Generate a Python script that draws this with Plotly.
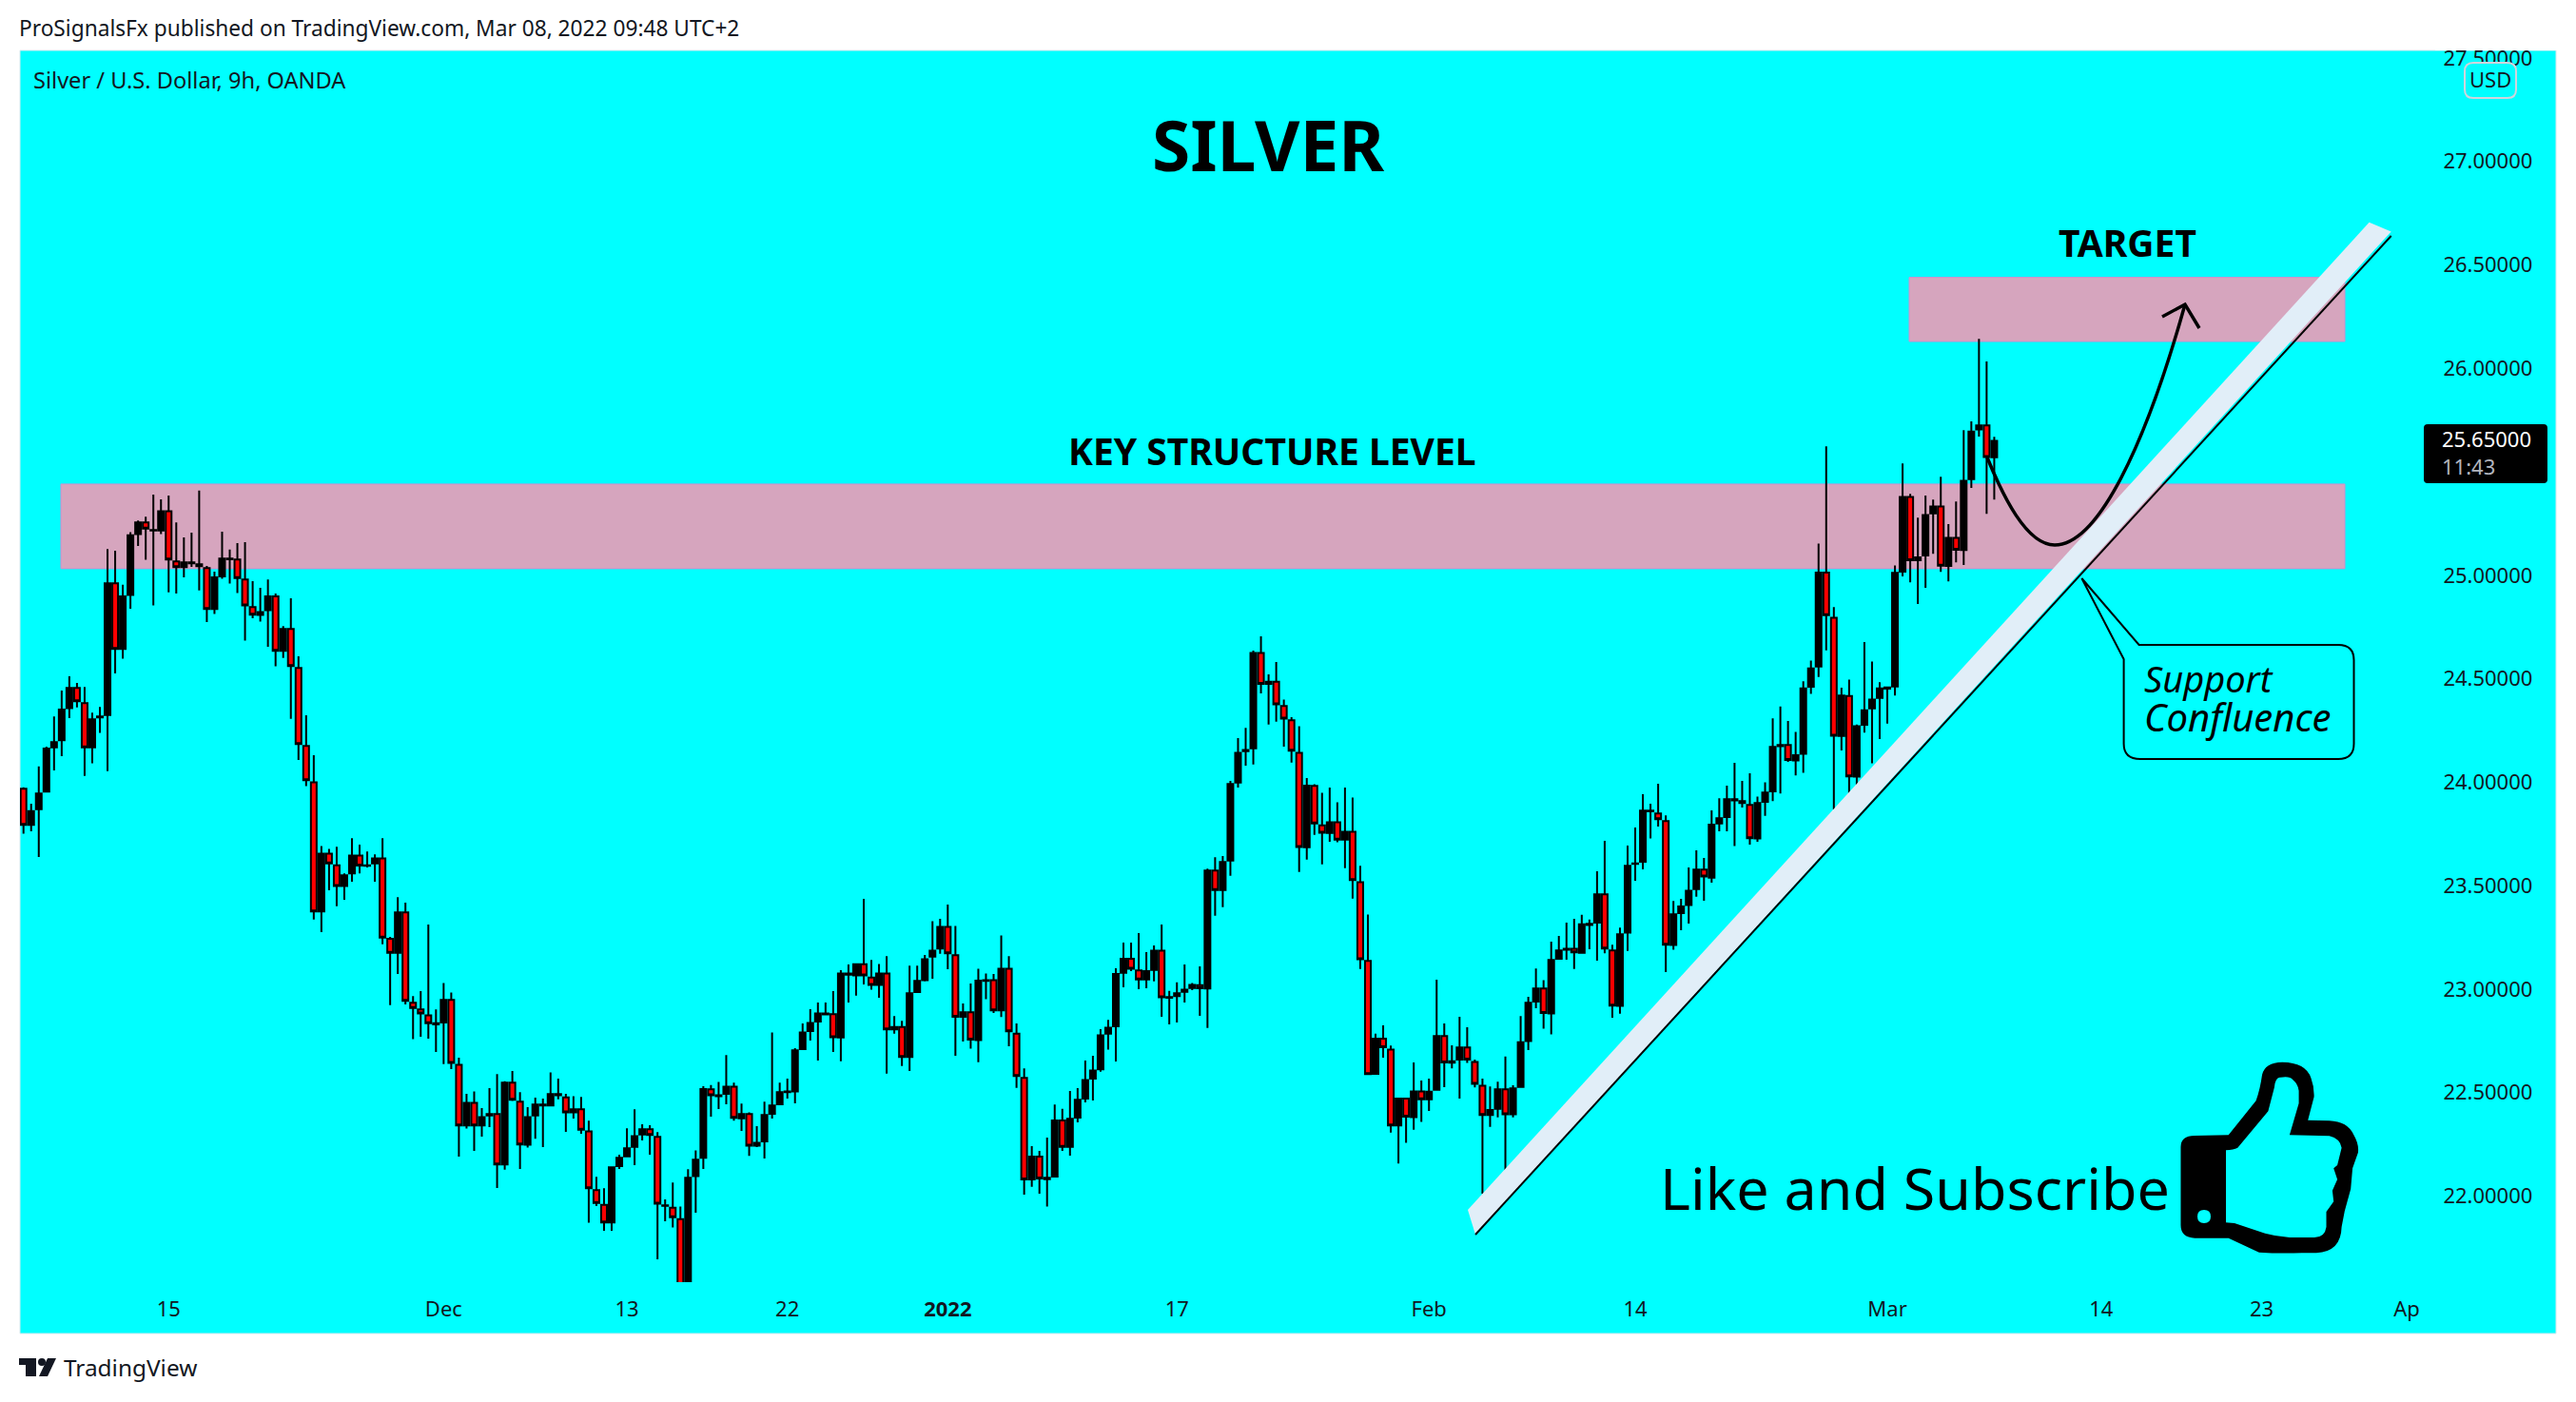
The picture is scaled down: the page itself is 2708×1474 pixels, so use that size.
import plotly.graph_objects as go

# ---- data: 9h Silver / USD candles ----
open_ = [23.968,23.794,23.870,23.955,24.169,24.203,24.358,24.456,24.382,24.169,
24.313,24.325,24.961,24.644,24.905,25.199,25.255,25.217,25.217,25.310,
25.067,25.039,25.058,25.053,25.035,24.837,24.995,25.078,25.076,24.980,
24.846,24.808,24.831,24.898,24.635,24.741,24.552,24.175,24.000,23.375,
23.655,23.599,23.499,23.559,23.646,23.596,23.608,23.632,23.243,23.176,
23.371,22.934,22.902,22.873,22.830,22.839,22.948,22.634,22.341,22.451,
22.341,22.390,22.396,22.153,22.548,22.456,22.248,22.390,22.438,22.438,
22.487,22.477,22.405,22.419,22.312,22.029,21.958,21.872,22.145,22.192,
22.238,22.298,22.323,22.286,21.953,21.944,21.889,21.345,22.096,22.185,
22.516,22.483,22.494,22.529,22.376,22.396,22.244,22.264,22.398,22.444,
22.502,22.506,22.710,22.798,22.843,22.878,22.879,22.767,23.076,23.066,
23.121,23.056,23.020,23.076,22.805,22.817,22.672,22.986,23.043,23.157,
23.196,23.301,23.164,22.866,22.888,22.754,23.040,23.044,22.897,23.099,
22.785,22.571,22.080,22.191,22.082,22.094,22.365,22.238,22.379,22.471,
22.568,22.613,22.785,22.820,23.079,23.147,23.090,23.047,23.093,23.186,
22.958,22.967,22.987,23.006,23.019,23.003,23.573,23.479,23.622,23.998,
24.150,24.164,24.625,24.475,24.486,24.368,24.299,24.142,23.686,23.982,
23.792,23.755,23.807,23.723,23.761,23.517,23.136,22.591,22.761,22.708,
22.341,22.471,22.381,22.506,22.468,22.514,22.773,22.645,22.660,22.718,
22.648,22.533,22.392,22.422,22.516,22.395,22.528,22.749,22.940,23.003,
22.882,23.147,23.190,23.195,23.176,23.310,23.322,23.458,23.187,22.919,
23.273,23.605,23.616,23.859,23.849,23.812,23.213,23.368,23.406,23.483,
23.578,23.539,23.801,23.832,23.912,23.909,23.890,23.728,23.905,23.956,
24.174,24.180,24.105,24.137,24.462,24.559,25.013,24.795,24.224,24.417,
24.027,24.278,24.357,24.407,24.452,24.463,25.018,25.378,25.073,25.096,
25.299,25.332,25.045,25.181,25.122,25.465,25.705,25.724,25.570]

high = [23.975,23.896,24.076,24.172,24.318,24.443,24.512,24.480,24.460,24.336,
24.364,25.127,25.119,24.954,25.209,25.265,25.283,25.390,25.367,25.386,
25.255,25.183,25.206,25.409,25.045,25.018,25.211,25.124,25.156,25.160,
24.972,24.940,24.980,24.912,24.754,24.889,24.609,24.324,24.130,23.692,
23.678,23.688,23.559,23.729,23.698,23.665,23.651,23.729,23.253,23.444,
23.418,22.966,22.991,23.312,22.902,23.030,22.984,22.669,22.494,22.506,
22.425,22.522,22.589,22.555,22.605,22.502,22.430,22.476,22.471,22.598,
22.568,22.494,22.483,22.479,22.364,22.093,22.038,22.140,22.200,22.327,
22.419,22.347,22.343,22.309,21.984,22.065,21.950,22.130,22.221,22.531,
22.537,22.552,22.681,22.548,22.447,22.405,22.338,22.456,22.791,22.548,
22.568,22.715,22.834,22.903,22.935,22.935,22.991,23.092,23.119,23.125,
23.436,23.141,23.122,23.159,22.870,22.847,23.113,23.113,23.165,23.329,
23.340,23.409,23.306,22.931,23.027,23.099,23.076,23.073,23.260,23.160,
22.834,22.617,22.241,22.218,22.283,22.443,22.422,22.508,22.522,22.655,
22.678,22.807,22.851,23.101,23.225,23.225,23.271,23.179,23.211,23.312,
22.992,23.033,23.119,23.030,23.110,23.582,23.638,23.643,24.006,24.213,
24.263,24.636,24.705,24.521,24.581,24.400,24.314,24.271,24.020,23.990,
23.949,23.974,23.903,23.974,23.926,23.596,23.361,22.785,22.825,22.727,
22.476,22.476,22.646,22.558,22.568,23.046,22.834,22.729,22.867,22.816,
22.660,22.568,22.530,22.553,22.674,22.536,22.870,22.963,23.100,23.044,
23.230,23.257,23.322,23.340,23.359,23.336,23.570,23.717,23.215,23.297,
23.694,23.781,23.942,23.896,23.993,23.840,23.426,23.437,23.588,23.671,
23.634,23.864,23.922,23.984,24.094,24.007,24.043,23.931,24.000,24.309,
24.366,24.296,24.243,24.488,24.588,25.153,25.623,24.846,24.457,24.496,
24.279,24.677,24.583,24.483,24.463,25.048,25.540,25.393,25.278,25.385,
25.366,25.476,25.247,25.357,25.701,25.744,26.143,26.033,25.669]

low = [23.751,23.763,23.639,23.950,24.057,24.126,24.310,24.361,24.030,24.091,
24.238,24.053,24.526,24.597,24.839,25.142,25.075,24.854,25.199,24.918,
24.912,24.990,25.041,24.927,24.774,24.813,24.983,24.960,24.914,24.684,
24.793,24.776,24.655,24.560,24.600,24.306,24.108,23.981,23.337,23.276,
23.478,23.401,23.432,23.519,23.559,23.588,23.519,23.217,22.923,23.073,
22.926,22.758,22.770,22.761,22.696,22.638,22.614,22.191,22.326,22.218,
22.287,22.333,22.039,22.127,22.460,22.131,22.234,22.277,22.237,22.433,
22.468,22.310,22.375,22.301,21.871,21.952,21.832,21.832,22.131,22.188,
22.149,22.269,22.200,21.694,21.878,21.848,21.300,21.300,21.920,22.131,
22.384,22.421,22.444,22.364,22.315,22.194,22.237,22.182,22.375,22.439,
22.471,22.448,22.706,22.752,22.655,22.874,22.696,22.652,22.935,22.969,
23.023,22.997,22.958,22.592,22.785,22.629,22.605,22.981,23.038,23.050,
23.171,23.096,22.678,22.747,22.712,22.647,22.951,22.885,22.865,22.724,
22.523,22.007,22.045,22.011,21.949,22.090,22.218,22.195,22.356,22.453,
22.462,22.601,22.708,22.650,23.009,23.087,23.000,23.004,23.038,22.866,
22.830,22.839,22.935,22.995,22.871,22.813,23.355,23.396,23.548,23.974,
24.080,24.086,24.429,24.279,24.293,24.172,24.095,23.566,23.626,23.746,
23.603,23.712,23.710,23.585,23.438,23.098,22.589,22.590,22.669,22.307,
22.157,22.257,22.321,22.359,22.411,22.510,22.526,22.617,22.471,22.643,
22.525,22.012,22.334,22.380,22.096,22.380,22.524,22.706,22.908,22.809,
22.781,23.142,23.142,23.097,23.172,23.193,23.138,23.173,22.862,22.881,
23.185,23.524,23.579,23.728,23.786,23.083,23.190,23.285,23.317,23.447,
23.427,23.515,23.763,23.763,23.691,23.878,23.699,23.712,23.837,23.909,
23.946,24.098,24.033,24.045,24.427,24.509,24.637,23.869,24.153,23.948,
23.987,24.240,24.092,24.209,24.283,24.419,24.995,24.966,24.861,24.940,
25.104,25.017,24.971,25.063,25.050,25.422,25.670,25.297,25.366]

close = [23.794,23.861,23.945,24.163,24.194,24.351,24.456,24.391,24.169,24.304,
24.318,24.961,24.644,24.898,25.193,25.255,25.226,25.219,25.310,25.076,
25.039,25.062,25.062,25.044,24.837,24.990,25.081,25.081,24.987,24.855,
24.810,24.822,24.898,24.635,24.741,24.561,24.184,24.010,23.375,23.655,
23.608,23.499,23.550,23.646,23.597,23.599,23.632,23.249,23.176,23.371,
22.943,22.909,22.882,22.836,22.836,22.948,22.643,22.341,22.451,22.341,
22.382,22.396,22.153,22.548,22.465,22.249,22.382,22.442,22.442,22.493,
22.493,22.405,22.419,22.321,22.038,21.967,21.872,22.139,22.185,22.231,
22.290,22.323,22.295,21.963,21.955,21.898,21.345,22.088,22.176,22.517,
22.487,22.487,22.529,22.378,22.396,22.244,22.257,22.392,22.438,22.502,
22.506,22.704,22.791,22.837,22.883,22.883,22.768,23.076,23.070,23.121,
23.066,23.020,23.076,22.805,22.817,22.672,22.980,23.040,23.145,23.186,
23.301,23.173,22.866,22.888,22.756,23.041,23.044,22.897,23.099,22.796,
22.580,22.080,22.191,22.085,22.088,22.365,22.238,22.373,22.465,22.561,
22.607,22.777,22.814,23.073,23.147,23.099,23.047,23.087,23.186,22.961,
22.962,22.980,22.998,23.021,23.004,23.573,23.479,23.614,23.992,24.142,
24.156,24.625,24.475,24.486,24.377,24.308,24.152,23.687,23.983,23.801,
23.756,23.807,23.723,23.761,23.527,23.145,22.589,22.761,22.719,22.341,
22.471,22.384,22.506,22.468,22.505,22.773,22.646,22.651,22.718,22.660,
22.542,22.392,22.416,22.516,22.395,22.521,22.743,22.934,23.003,22.885,
23.141,23.187,23.195,23.178,23.313,23.316,23.458,23.196,22.920,23.265,
23.596,23.608,23.863,23.863,23.821,23.215,23.362,23.400,23.476,23.578,
23.544,23.795,23.826,23.918,23.918,23.899,23.729,23.899,23.950,24.171,
24.180,24.107,24.130,24.454,24.550,25.013,24.807,24.225,24.419,24.028,
24.271,24.348,24.399,24.454,24.458,25.012,25.378,25.073,25.087,25.291,
25.332,25.046,25.181,25.123,25.457,25.695,25.724,25.572,25.650]

bars = list(range(len(close)))

date_tick_bars = [19, 55, 79, 100, 121, 151, 184, 211, 244, 272, 293, 312]
date_tick_text = ["15", "Dec", "13", "22", "<b>2022</b>", "17", "Feb", "14", "Mar", "14", "23", "Ap"]
price_ticks = [22.0, 22.5, 23.0, 23.5, 24.0, 24.5, 25.0, 26.0, 26.5, 27.0, 27.5]

key_zone = (25.032, 25.441)
target_zone = (26.130, 26.440)
last_price = "25.65000"
countdown = "11:43"

# ---- layout frame (pixels of the page) ----
W, H = 2708, 1474
L, R, T, B = 21, 2548, 53, 1348
FONT = "Noto Sans"
INK = "#131722"

def bar_of(px):
    return (px - 24.7) / 8.03

def price_of(py):
    return 26 - (py - 387.3) / 217.55

def pap_x(px):
    return (px - L) / (R - L)

def pap_y(py):
    return (B - py) / (B - T)

def make_path(cmds, fx, fy):
    out = []
    for c in cmds:
        op, nums = c[0], c[1:]
        if op == "Z":
            out.append("Z")
            continue
        pts = [f"{fx(nums[i]):.5f},{fy(nums[i+1]):.5f}" for i in range(0, len(nums), 2)]
        out.append(op + " " + " ".join(pts))
    return " ".join(out)

def data_path(cmds):
    return make_path(cmds, bar_of, price_of)

def paper_path(cmds):
    return make_path(cmds, pap_x, pap_y)

def rounded(x0, y0, x1, y1, r):
    return [("M", x0 + r, y0), ("L", x1 - r, y0), ("Q", x1, y0, x1, y0 + r), ("L", x1, y1 - r),
            ("Q", x1, y1, x1 - r, y1), ("L", x0 + r, y1), ("Q", x0, y1, x0, y1 - r),
            ("L", x0, y0 + r), ("Q", x0, y0, x0 + r, y0), ("Z",)]

shapes = []
def paper_shape(cmds, fill=None, line=None, width=0, layer="above", **kw):
    s = dict(type="path", xref="paper", yref="paper", path=paper_path(cmds), layer=layer,
             fillcolor=fill or "rgba(0,0,0,0)", line=dict(color=line or "rgba(0,0,0,0)", width=width))
    s.update(kw)
    shapes.append(s)

def data_shape(cmds, fill=None, line=None, width=0, layer="above"):
    shapes.append(dict(type="path", xref="x", yref="y", path=data_path(cmds), layer=layer,
                       fillcolor=fill or "rgba(0,0,0,0)",
                       line=dict(color=line or "rgba(0,0,0,0)", width=width)))

# cyan chart panel incl. both scales
paper_shape([("M", 21, 53), ("L", 2687, 53), ("L", 2687, 1402), ("L", 21, 1402), ("Z",)],
            fill="#00ffff", line="#d6e8ee", width=1, layer="below")

# zones
ZONE_FILL, ZONE_LINE = "#d6a5be", "#cc90cf"
for (lo, hi), left_px in ((key_zone, 64), (target_zone, 2007)):
    shapes.append(dict(type="rect", xref="x", yref="y", x0=bar_of(left_px), x1=bar_of(2465), y0=lo, y1=hi,
                       layer="below", fillcolor=ZONE_FILL, line=dict(color=ZONE_LINE, width=1)))

# rising trend channel
data_shape([("M", 1543, 1272), ("L", 2490.6, 233.8), ("L", 2513.7, 243.4), ("L", 1551, 1298), ("Z",)], fill="#e1eef8")
data_shape([("M", 1551, 1298), ("L", 2513.7, 248)], line="#000000", width=2)

# projected path arrow
data_shape([("M", 2089, 481), ("C", 2105, 520, 2130, 573, 2160, 573),
            ("C", 2205, 573, 2255, 470, 2297, 320)], line="#000000", width=3.5)
data_shape([("M", 2273, 333), ("L", 2297, 320), ("L", 2312, 345)], line="#000000", width=3.5)

# callout
data_shape([("M", 2188.4, 608), ("L", 2248.6, 678), ("L", 2458, 678), ("Q", 2474.5, 678, 2474.5, 694),
            ("L", 2474.5, 782), ("Q", 2474.5, 798, 2458, 798), ("L", 2250, 798), ("Q", 2232.6, 798, 2232.6, 782),
            ("L", 2232.6, 693), ("Z",)], line="#000000", width=2)

# thumbs-up icon
thumb = [("M", 2307, 1194), ("L", 2342.7, 1193.3), ("L", 2371.6, 1157.3), ("Q", 2376, 1145, 2378, 1130),
         ("Q", 2381, 1117, 2399.2, 1116.7), ("Q", 2424, 1117, 2429.4, 1133.3), ("Q", 2433, 1143, 2432.6, 1153.3),
         ("L", 2426.2, 1177.7), ("L", 2448.7, 1178.3), ("Q", 2468, 1179, 2474.4, 1193.3), ("Q", 2480, 1203, 2478.9, 1211.7),
         ("L", 2473.1, 1228.3), ("L", 2471.2, 1250), ("L", 2464.8, 1273.3), ("L", 2461.6, 1290),
         ("Q", 2461, 1316, 2435, 1317.3), ("L", 2419.8, 1317.3), ("Q", 2395, 1318, 2374.8, 1316.7),
         ("L", 2342.7, 1301.7), ("L", 2307.3, 1301.7), ("Q", 2292.5, 1301, 2292.5, 1288), ("L", 2292.5, 1206),
         ("Q", 2292.5, 1194, 2307, 1194), ("Z",),
         ("M", 2340, 1209.3), ("Q", 2348, 1209, 2352.3, 1206.7), ("L", 2384.4, 1168.3), ("L", 2390.9, 1143.3),
         ("Q", 2392, 1132, 2397.3, 1132.7), ("Q", 2407, 1131, 2410.1, 1135), ("Q", 2416, 1140, 2416.6, 1146.7),
         ("L", 2416.6, 1160), ("L", 2406.9, 1193.3), ("L", 2448.7, 1194.3), ("Q", 2460, 1197, 2461.6, 1206.7),
         ("L", 2457.1, 1225), ("L", 2453.2, 1228.3), ("L", 2457.1, 1240), ("L", 2451.9, 1251.7), ("L", 2453.2, 1263.3),
         ("L", 2445.5, 1274), ("L", 2445.5, 1290), ("Q", 2444, 1301, 2433, 1301), ("L", 2407, 1301),
         ("Q", 2393, 1300, 2381.2, 1296.7), ("L", 2349, 1286), ("L", 2340, 1285.3), ("Z",),
         ("M", 2310, 1279), ("Q", 2310, 1272, 2317, 1272), ("Q", 2324, 1272, 2324, 1279),
         ("Q", 2324, 1286, 2317, 1286), ("Q", 2310, 1286, 2310, 1279), ("Z",)]
paper_shape(thumb, fill="#000000", fillrule="evenodd")

# clip the top scale label, USD badge, last price tag
paper_shape([("M", 2560, 36), ("L", 2690, 36), ("L", 2690, 53), ("L", 2560, 53), ("Z",)], fill="#ffffff")
paper_shape(rounded(2591, 66, 2645, 103, 9), fill="#00ffff", line="#d1d4dc", width=2)
paper_shape(rounded(2548, 446, 2678, 508, 4), fill="#000000")

# TradingView mark
paper_shape([("M", 20, 1428), ("L", 38, 1428), ("L", 38, 1447), ("L", 27, 1447), ("L", 27, 1435), ("L", 20, 1435), ("Z",)], fill=INK)
paper_shape([("M", 40, 1432), ("Q", 40, 1428, 44, 1428), ("Q", 48, 1428, 48, 1432), ("Q", 48, 1436, 44, 1436), ("Q", 40, 1436, 40, 1432), ("Z",)], fill=INK)
paper_shape([("M", 50, 1428), ("L", 59, 1428), ("L", 50, 1447), ("L", 41, 1447), ("Z",)], fill=INK)

annotations = []
def label(text, px, py, size, color="#000000", anchor="left", family=FONT):
    annotations.append(dict(text=text, xref="paper", yref="paper", x=pap_x(px), y=pap_y(py), showarrow=False,
                            xanchor=anchor, yanchor="middle", align=anchor, borderpad=0,
                            font=dict(family=family, size=size, color=color)))

label("ProSignalsFx published on TradingView.com, Mar 08, 2022 09:48 UTC+2", 19, 30, 22.7, INK)
label("Silver / U.S. Dollar, 9h, OANDA", 34, 84, 23.6, INK)
label("<b>SILVER</b>", 1333, 151, 73, anchor="center")
label("<b>TARGET</b>", 2236, 255, 39, anchor="center")
label("<b>KEY STRUCTURE LEVEL</b>", 1337, 473, 39, anchor="center")
label("Like and Subscribe", 1744, 1248, 61)
label("<i>Support</i>", 2253, 713, 38)
label("<i>Confluence</i>", 2253, 753, 40)
label("USD", 2618, 83, 22, INK, anchor="center")
label(last_price, 2566, 461, 22, "#ffffff")
label(countdown, 2566, 490, 22, "#b2b5be")
label("TradingView", 66, 1437, 24.4, INK)

fig = go.Figure(go.Candlestick(
    x=bars, open=open_, high=high, low=low, close=close,
    whiskerwidth=0,
    increasing=dict(fillcolor="#000000", line=dict(color="#000000", width=2)),
    decreasing=dict(fillcolor="#ff0000", line=dict(color="#000000", width=2)),
    showlegend=False, hoverinfo="skip",
))

fig.update_layout(
    width=W, height=H,
    margin=dict(l=L, r=W - R, t=T, b=H - B, pad=0),
    paper_bgcolor="#ffffff", plot_bgcolor="#00ffff",
    boxgap=0.25, boxgroupgap=0,
    shapes=shapes, annotations=annotations,
    xaxis=dict(range=[bar_of(L), bar_of(R)], rangeslider=dict(visible=False), showgrid=False, zeroline=False,
               showline=False, tickmode="array", tickvals=date_tick_bars, ticktext=date_tick_text,
               ticks="outside", ticklen=9, tickcolor="rgba(0,0,0,0)",
               tickfont=dict(family=FONT, size=22, color=INK)),
    yaxis=dict(range=[price_of(B), price_of(T)], side="right", showgrid=False, zeroline=False, showline=False,
               tickmode="array", tickvals=price_ticks, tickformat=".5f", ticks="outside", ticklen=15,
               tickcolor="rgba(0,0,0,0)", tickfont=dict(family=FONT, size=22, color=INK)),
)

fig.write_html("out.html", config=dict(displayModeBar=False, staticPlot=True),
               post_script="document.body.style.margin='0';document.body.style.overflow='hidden';")
